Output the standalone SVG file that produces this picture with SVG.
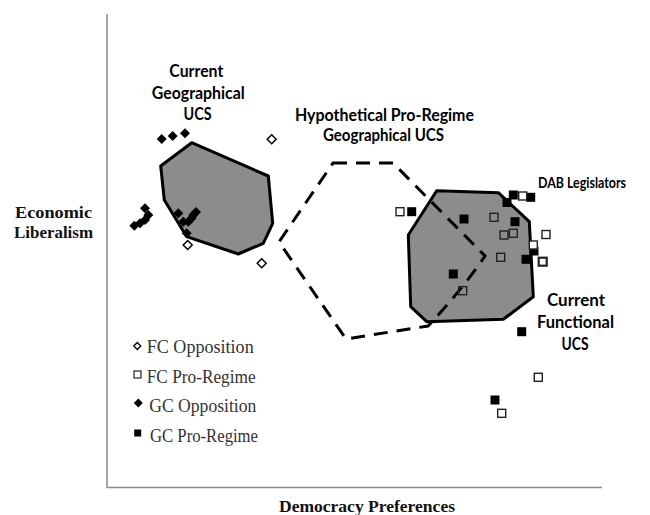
<svg xmlns="http://www.w3.org/2000/svg" xmlns:xlink="http://www.w3.org/1999/xlink" width="650" height="515" viewBox="0 0 650 515">
<style>
.axis{stroke:#8a8a8a;stroke-width:1.5;fill:none}
.region{fill:#8c8c8c;stroke:#000;stroke-width:3;stroke-linejoin:round}
.hypo{fill:none;stroke:#000;stroke-width:3;stroke-dasharray:14 9}
.lbl{font-family:Lato,"Liberation Sans",sans-serif;font-weight:bold;font-size:16.5px;fill:#000;text-anchor:middle}
.ax{font-family:"Liberation Serif","DejaVu Serif",serif;font-weight:bold;font-size:17px;fill:#111}
.leg{font-family:"Liberation Serif","DejaVu Serif",serif;font-size:18.5px;fill:#333}
.fd{fill:#000}
.hd{fill:#fff;stroke:#000;stroke-width:1.5}
.fs{fill:#000}
.hs{fill:#fff;stroke:#222;stroke-width:1.4}
.hsn{fill:none;stroke:#222;stroke-width:1.4}
</style>
<defs>
<path id="dia" d="M0,-5 L5,0 L0,5 L-5,0Z"/>
<path id="diah" d="M0,-4.5 L4.5,0 L0,4.5 L-4.5,0Z"/>
<rect id="sq" x="-4.5" y="-4.5" width="9" height="9"/>
<rect id="sqh" x="-4" y="-4" width="8" height="8"/>
</defs>
<rect width="650" height="515" fill="#fff"/>
<g id="axes">
<path class="axis" d="M107,14 L107,487.5 L602,487.5"/>
<text class="ax" x="53.5" y="218" text-anchor="middle" textLength="77" lengthAdjust="spacingAndGlyphs">Economic</text>
<text class="ax" x="53.5" y="238" text-anchor="middle" textLength="79" lengthAdjust="spacingAndGlyphs">Liberalism</text>
<text class="ax" x="367" y="512" text-anchor="middle" textLength="176" lengthAdjust="spacingAndGlyphs">Democracy Preferences</text>
</g>
<g id="geo-ucs">
<polygon class="region" points="191.7,142.7 268.3,176 272.7,223.3 263.3,243.3 238.3,254 186.7,236.7 164.3,200 160.7,166"/>
</g>
<g id="func-ucs">
<polygon class="region" points="436.7,190.7 498.3,192.7 529.3,221.7 533.3,296.7 503.3,319.3 426.7,321.7 410.7,306.7 408.3,235"/>
</g>
<g id="hypo-ucs">
<path class="hypo" d="M333,163 L393,163 L485,256 Q462,290 428,326 L346,339 L279,242 Z"/>
</g>
<g id="labels">
<text class="lbl" x="196.3" y="77" textLength="54" lengthAdjust="spacingAndGlyphs">Current</text>
<text class="lbl" x="198.3" y="99" textLength="93" lengthAdjust="spacingAndGlyphs">Geographical</text>
<text class="lbl" x="197.5" y="120" textLength="28" lengthAdjust="spacingAndGlyphs">UCS</text>
<text class="lbl" x="384.5" y="121" textLength="179" lengthAdjust="spacingAndGlyphs">Hypothetical Pro-Regime</text>
<text class="lbl" x="383.5" y="141" textLength="121" lengthAdjust="spacingAndGlyphs">Geographical UCS</text>
<text class="lbl" x="538" y="188" style="text-anchor:start;font-size:15.5px" textLength="88" lengthAdjust="spacingAndGlyphs">DAB Legislators</text>
<text class="lbl" x="576" y="306" textLength="58" lengthAdjust="spacingAndGlyphs">Current</text>
<text class="lbl" x="575.5" y="328" textLength="77" lengthAdjust="spacingAndGlyphs">Functional</text>
<text class="lbl" x="575" y="349.5" textLength="27" lengthAdjust="spacingAndGlyphs">UCS</text>
</g>
<g id="gc-opposition">
<use href="#dia" class="fd" x="161.7" y="139"/>
<use href="#dia" class="fd" x="172.7" y="136"/>
<use href="#dia" class="fd" x="185" y="133.3"/>
<use href="#dia" class="fd" x="145" y="208.3"/>
<use href="#dia" class="fd" x="148.3" y="215"/>
<use href="#dia" class="fd" x="145" y="220"/>
<use href="#dia" class="fd" x="140" y="223.3"/>
<use href="#dia" class="fd" x="134.3" y="225.7"/>
<use href="#dia" class="fd" x="178.3" y="213.3"/>
<use href="#dia" class="fd" x="183.3" y="221.7"/>
<use href="#dia" class="fd" x="186.7" y="233.3"/>
<use href="#dia" class="fd" x="196" y="212"/>
<use href="#dia" class="fd" x="193.3" y="215"/>
<use href="#dia" class="fd" x="191.7" y="218.3"/>
<use href="#dia" class="fd" x="188.3" y="221.7"/>
</g>
<g id="fc-opposition">
<use href="#diah" class="hd" x="271.7" y="139.3"/>
<use href="#diah" class="hd" x="187.7" y="245"/>
<use href="#diah" class="hd" x="261.7" y="263.3"/>
</g>
<g id="gc-pro-regime">
<use href="#sq" class="fs" x="411.7" y="211.7"/>
<use href="#sq" class="fs" x="464" y="219"/>
<use href="#sq" class="fs" x="515" y="221.7"/>
<use href="#sq" class="fs" x="534" y="251"/>
<use href="#sq" class="fs" x="526" y="259.3"/>
<use href="#sq" class="fs" x="453.3" y="274"/>
<use href="#sq" class="fs" x="513.3" y="195"/>
<use href="#sq" class="fs" x="507" y="202.5"/>
<use href="#sq" class="fs" x="530.7" y="197.3"/>
<use href="#sq" class="fs" x="521.7" y="331.7"/>
<use href="#sq" class="fs" x="495" y="400"/>
</g>
<g id="fc-pro-regime">
<use href="#sqh" class="hs" x="400" y="211.7"/>
<use href="#sqh" class="hsn" x="494" y="217.3"/>
<use href="#sqh" class="hsn" x="504" y="235"/>
<use href="#sqh" class="hsn" x="513.3" y="233.3"/>
<use href="#sqh" class="hs" x="546" y="234.5"/>
<use href="#sqh" class="hs" x="533.3" y="245"/>
<use href="#sqh" class="hsn" x="500.7" y="257.3"/>
<use href="#sqh" class="hs" x="542.7" y="261.7" style="stroke-width:2.2"/>
<use href="#sqh" class="hsn" x="462.7" y="290.7"/>
<use href="#sqh" class="hs" x="522.7" y="196"/>
<use href="#sqh" class="hs" x="538.3" y="377.3"/>
<use href="#sqh" class="hs" x="501.7" y="413.3"/>
</g>
<g id="legend">
<path class="hd" d="M137.3,342.5 L140.8,346 L137.3,349.5 L133.8,346Z" style="stroke-width:1.3"/>
<text class="leg" x="146.7" y="353" textLength="107" lengthAdjust="spacingAndGlyphs">FC Opposition</text>
<rect class="hs" x="134" y="371" width="7" height="7" style="stroke-width:1.2"/>
<text class="leg" x="146.7" y="383" textLength="109" lengthAdjust="spacingAndGlyphs">FC Pro-Regime</text>
<path class="fd" d="M138.3,398.5 L142.8,403 L138.3,407.5 L133.8,403Z"/>
<text class="leg" x="149.3" y="411.7" textLength="107" lengthAdjust="spacingAndGlyphs">GC Opposition</text>
<rect class="fs" x="134.2" y="429.5" width="7" height="7"/>
<text class="leg" x="150" y="441.7" textLength="108" lengthAdjust="spacingAndGlyphs">GC Pro-Regime</text>
</g>
</svg>
